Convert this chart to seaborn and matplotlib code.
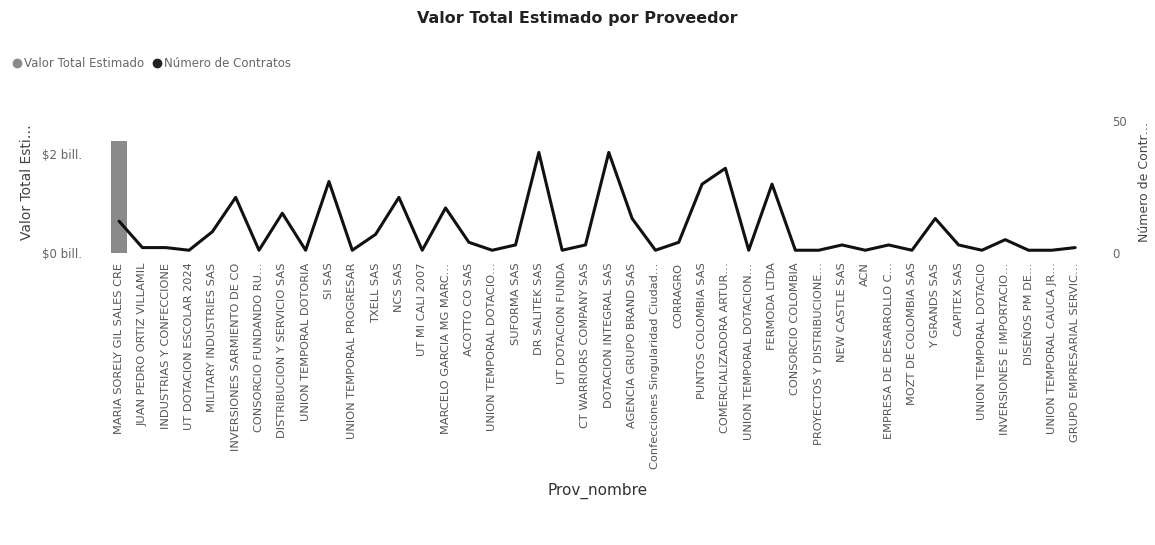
import numpy as np
import pandas as pd
import matplotlib
matplotlib.use("Agg")
import matplotlib.pyplot as plt
import seaborn as sns
from matplotlib.lines import Line2D
from matplotlib.ticker import FuncFormatter

# data
proveedores = [
    "MARIA SORELY GIL SALES CRE",
    "JUAN PEDRO ORTIZ VILLAMIL",
    "INDUSTRIAS Y CONFECCIONE",
    "UT DOTACION ESCOLAR 2024",
    "MILITARY INDUSTRIES SAS",
    "INVERSIONES SARMIENTO DE CO",
    "CONSORCIO FUNDANDO RU…",
    "DISTRIBUCION Y SERVICIO SAS",
    "UNION TEMPORAL DOTORIA",
    "SI SAS",
    "UNION TEMPORAL PROGRESAR",
    "TXELL SAS",
    "NCS SAS",
    "UT MI CALI 2007",
    "MARCELO GARCIA MG MARC…",
    "ACOTTO CO SAS",
    "UNION TEMPORAL DOTACIO…",
    "SUFORMA SAS",
    "DR SALITEK SAS",
    "UT DOTACION FUNDA",
    "CT WARRIORS COMPANY SAS",
    "DOTACION INTEGRAL SAS",
    "AGENCIA GRUPO BRAND SAS",
    "Confecciones Singularidad Ciudad…",
    "CORRAGRO",
    "PUNTOS COLOMBIA SAS",
    "COMERCIALIZADORA ARTUR…",
    "UNION TEMPORAL DOTACION…",
    "FERMODA LTDA",
    "CONSORCIO COLOMBIA",
    "PROYECTOS Y DISTRIBUCIONE…",
    "NEW CASTLE SAS",
    "ACN",
    "EMPRESA DE DESARROLLO C…",
    "MOZT DE COLOMBIA SAS",
    "Y GRANDS SAS",
    "CAPITEX SAS",
    "UNION TEMPORAL DOTACIO",
    "INVERSIONES E IMPORTACIO…",
    "DISEÑOS PM DE…",
    "UNION TEMPORAL CAUCA JR…",
    "GRUPO EMPRESARIAL SERVIC…",
]

# valor total estimado (pesos) - only the first bar is visible, the rest are tiny
valor_total = [2.26e12] + [0.002e12] * 41

num_contratos = [12, 2, 2, 1, 8, 21, 1, 15, 1, 27, 1, 7, 21, 1, 17, 4, 1, 3, 38, 1, 3,
                 38, 13, 1, 4, 26, 32, 1, 26, 1, 1, 3, 1, 3, 1, 13, 3, 1, 5, 1, 1, 2]

df = pd.DataFrame({"Prov_nombre": proveedores,
                   "valor": valor_total,
                   "contratos": num_contratos})

sns.set_style("white")
plt.rcParams["font.family"] = ["DejaVu Sans"]

fig = plt.figure(figsize=(11.55, 5.45), dpi=100)
ax = fig.add_axes([0.093, 0.536, 0.848, 0.259])

sns.barplot(data=df, x="Prov_nombre", y="valor", color="#8a8a8a",
            linewidth=0, width=0.7, ax=ax)
ax.set_xlim(-0.5, len(proveedores) - 0.5)
ax.set_ylim(0, 2.85e12)
ax.set_yticks([0, 2e12])
ax.yaxis.set_major_formatter(FuncFormatter(lambda v, p: f"${v / 1e12:.0f} bill."))
ax.tick_params(axis="y", length=0, labelsize=8.5, labelcolor="#666666", pad=18)
ax.tick_params(axis="x", length=0, labelsize=8.2, labelcolor="#555555", pad=7)
plt.setp(ax.get_xticklabels(), rotation=90)
ax.set_xlabel("Prov_nombre", fontsize=11, color="#333333", labelpad=10)
ax.set_ylabel("Valor Total Esti…", fontsize=10, color="#444444", labelpad=6)

ax2 = ax.twinx()
sns.lineplot(data=df, x="Prov_nombre", y="contratos", color="#111111",
             linewidth=2.2, sort=False, ax=ax2)
ax2.set_ylim(0, 53.4)
ax2.set_yticks([0, 50])
ax2.tick_params(axis="y", length=0, labelsize=8.5, labelcolor="#666666", pad=18)
ax2.set_ylabel("Número de Contr…", fontsize=9, color="#444444", labelpad=8)

for a in (ax, ax2):
    for s in a.spines.values():
        s.set_visible(False)

fig.suptitle("Valor Total Estimado por Proveedor", x=0.5, y=0.98,
             fontsize=11.5, color="#222222", fontweight="semibold")

handles = [
    Line2D([], [], marker="o", linestyle="", color="#8a8a8a", markersize=6),
    Line2D([], [], marker="o", linestyle="", color="#222222", markersize=6),
]
fig.legend(handles, ["Valor Total Estimado", "Número de Contratos"],
           loc="upper left", bbox_to_anchor=(0.0, 0.915), ncol=2, frameon=False,
           fontsize=8.5, labelcolor="#666666", handletextpad=0.1,
           columnspacing=0.6, handlelength=1)

fig.savefig("out.png", dpi=100)
